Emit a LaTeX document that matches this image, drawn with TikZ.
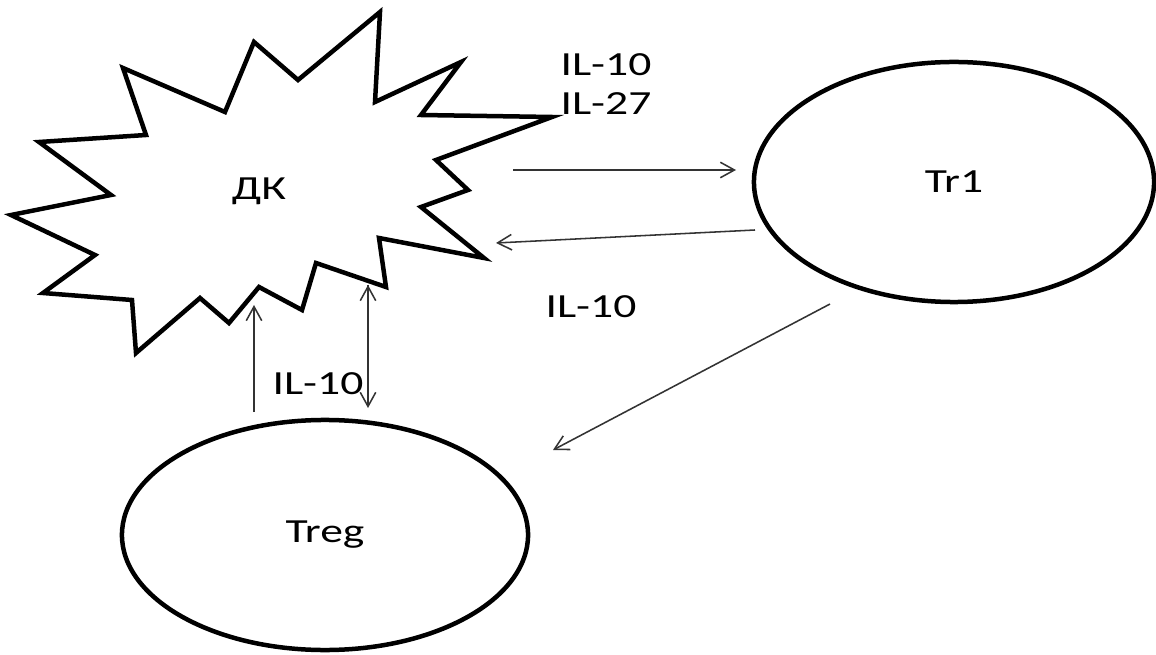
\documentclass[tikz,border=0pt]{standalone}
\usepackage{fontspec}
\setmainfont{Carlito}[FakeStretch=1.35]
\usetikzlibrary{arrows.meta, shapes.geometric}

\begin{document}
\begin{tikzpicture}[x=0.025cm, y=-0.025cm,
		every node/.style={font=\fontsize{24}{28}\selectfont},
		cell/.style={draw, ellipse, line width=3.2pt, inner sep=0pt},
		signal/.style={-{Straight Barb[length=10pt, width=11pt]}, line width=1.1pt, draw=black!80}]
		
		\useasboundingbox (0,0) rectangle (1156,655);
		
		% ДК drawn as a jagged star
		\draw[line width=3.2pt, line join=miter]
		(380,12) -- (375,102) -- (461,62) -- (421,115) -- (552,117) -- (436,160)
		-- (468,190) -- (421,207) -- (484,258) -- (379,238) -- (386,287) -- (316,263)
		-- (302,310) -- (259,287) -- (229,323) -- (200,298) -- (136,353) -- (132,300)
		-- (43,293) -- (95,255) -- (11,215) -- (111,195) -- (39,142) -- (146,135)
		-- (123,68) -- (225,112) -- (254,42) -- (298,80) -- cycle;
		\node (dk) at (259,191) {ДК};
		
		\node[cell, minimum width=10cm, minimum height=6cm] (tr1) at (954,182) {Tr1};
		\node[cell, minimum width=10.15cm, minimum height=5.75cm] (treg) at (325,535) {Treg};
		
		% free ends of the arrows
		\coordinate (dk-out) at (513,170);
		\coordinate (tr1-in) at (736,170);
		\coordinate (tr1-out) at (755,230);
		\coordinate (dk-in) at (496,243);
		\coordinate (tr1-low) at (830,304);
		\coordinate (treg-in) at (553,450);
		\coordinate (treg-up) at (254,412);
		\coordinate (dk-low) at (254,305);
		\coordinate (dk-down) at (368,285);
		\coordinate (treg-top) at (368,408);
		
		\path[signal]
		(dk-out) edge (tr1-in)
		(tr1-out) edge (dk-in)
		(tr1-low) edge (treg-in)
		(treg-up) edge (dk-low)
		(dk-down) edge (treg-top)
		;
		
		\node (il10a) at (606,65) {IL-10};
		\node (il27) at (606,104) {IL-27};
		\node (il10b) at (591,307) {IL-10};
		\node (il10c) at (318,384) {IL-10};
		
\end{tikzpicture}
\end{document}
